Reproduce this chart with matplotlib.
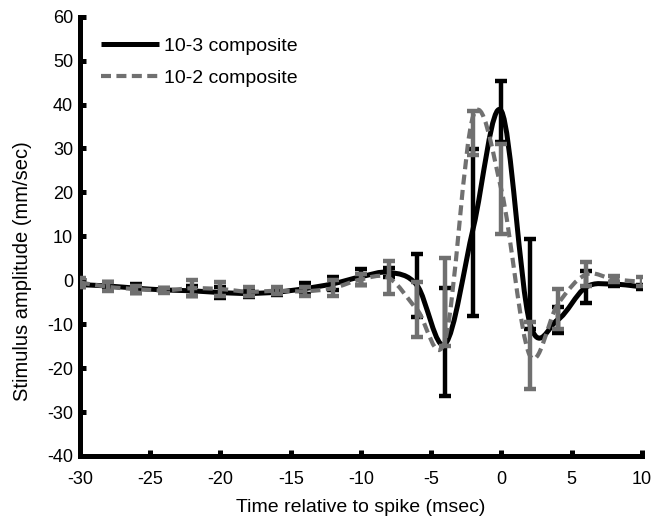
import numpy as np
import matplotlib
matplotlib.use("Agg")
import matplotlib.pyplot as plt
from matplotlib.path import Path
from matplotlib.patches import PathPatch
from matplotlib.lines import Line2D

plt.rcParams['font.family'] = ['Liberation Sans Narrow', 'Liberation Sans', 'DejaVu Sans']
plt.rcParams['axes.unicode_minus'] = False

# Time relative to spike (msec)
t = [-30, -28, -26, -24, -22, -20, -18, -16, -14, -12, -10,
     -8, -6, -4, -2, 0, 2, 4, 6, 8, 10]

# 10-3 composite
amp_103 = [-1.0, -1.3, -1.8, -2.2, -2.4, -2.8, -3.0, -2.7, -1.9, -0.8, 0.8,
           1.8, -1.2, -14.5, 12.0, 38.5, -9.5, -9.0, -1.6, -0.9, -1.5]
lo_103 = [0.5, 1.0, 1.0, 0.5, 1.2, 1.2, 0.8, 0.6, 1.2, 1.5, 1.8,
          1.0, 7.2, 11.9, 20.1, 7.0, 1.5, 3.0, 3.6, 0.5, 0.5]
hi_103 = [0.5, 1.0, 1.0, 0.5, 1.2, 1.2, 0.8, 0.6, 1.2, 1.5, 1.8,
          1.0, 7.1, 12.7, 17.8, 6.9, 18.8, 3.0, 3.6, 0.5, 0.5]

# 10-2 composite
amp_102 = [-0.5, -1.5, -2.0, -2.3, -1.8, -2.0, -2.6, -2.4, -2.5, -1.8, 0.2,
           0.5, -6.7, -13.5, 37.5, 20.5, -17.0, -5.5, 1.3, 0.2, -0.3]
lo_102 = [1.0, 1.0, 0.8, 0.5, 1.8, 1.5, 1.0, 0.8, 1.0, 1.8, 1.2,
          3.7, 6.3, 1.5, 9.0, 10.0, 7.8, 5.7, 2.7, 0.7, 1.0]
hi_102 = [1.0, 1.0, 0.8, 0.5, 1.8, 1.5, 1.0, 0.8, 1.0, 1.8, 1.2,
          3.9, 6.2, 18.5, 1.0, 10.5, 7.4, 3.5, 2.8, 0.7, 1.0]

labels = ['10-3 composite', '10-2 composite']
gray = '#707070'


def smooth_path(xs, ys):
    # Bezier curve through the points, like a spreadsheet "smoothed line"
    pts = np.column_stack([xs, ys]).astype(float)
    n = len(pts)
    verts = [pts[0]]
    codes = [Path.MOVETO]
    for i in range(n - 1):
        p0 = pts[max(i - 1, 0)]
        p1 = pts[i]
        p2 = pts[i + 1]
        p3 = pts[min(i + 2, n - 1)]
        verts += [p1 + (p2 - p0) / 6, p2 - (p3 - p1) / 6, p2]
        codes += [Path.CURVE4] * 3
    return Path(verts, codes)


fig = plt.figure(figsize=(6.53, 5.19), dpi=100)
ax = fig.add_axes([0.1225, 0.1214, 0.8606, 0.8464])

# black solid series
ax.add_patch(PathPatch(smooth_path(t, amp_103), fill=False, edgecolor='black',
                       lw=3.6, capstyle='butt', joinstyle='round', zorder=2))
ax.errorbar(t, amp_103, yerr=[lo_103, hi_103], fmt='none', ecolor='black',
            elinewidth=3.2, capsize=4.3, capthick=3.2, zorder=3)

# gray dashed series
ax.add_patch(PathPatch(smooth_path(t, amp_102), fill=False, edgecolor=gray,
                       lw=3.0, linestyle=(0, (2.4, 1.3)), capstyle='butt',
                       joinstyle='round', zorder=4))
ax.errorbar(t, amp_102, yerr=[lo_102, hi_102], fmt='none', ecolor=gray,
            elinewidth=3.2, capsize=4.3, capthick=3.2, zorder=5)

ax.set_xlim(-30, 10)
ax.set_ylim(-40, 60)
ax.set_xticks(np.arange(-30, 11, 5))
ax.set_yticks(np.arange(-40, 61, 10))

for side in ['top', 'right']:
    ax.spines[side].set_visible(False)
for side in ['left', 'bottom']:
    ax.spines[side].set_linewidth(3.6)
    ax.spines[side].set_capstyle('projecting')
ax.tick_params(direction='in', length=4, width=3.6, labelsize=13)
ax.tick_params(axis='x', pad=11)
ax.tick_params(axis='y', pad=5)

ax.set_xlabel('Time relative to spike (msec)', fontsize=14, labelpad=8)
ax.set_ylabel('Stimulus amplitude (mm/sec)', fontsize=14.5)
ax.yaxis.set_label_coords(-0.085, 0.42)

handles = [Line2D([], [], color='black', lw=3.6, solid_capstyle='butt'),
           Line2D([], [], color=gray, lw=3.0, linestyle=(0, (2.4, 1.3)),
                  dash_capstyle='butt')]
ax.legend(handles, labels, loc='upper left', bbox_to_anchor=(0.037, 0.953),
          frameon=False, fontsize=14, handlelength=3.0, handletextpad=0.26,
          labelspacing=0.75, borderpad=0, borderaxespad=0)

fig.savefig('out.png', dpi=100)
